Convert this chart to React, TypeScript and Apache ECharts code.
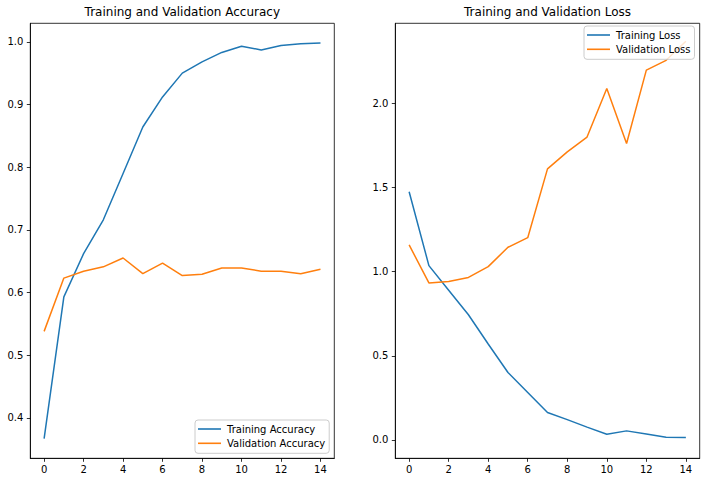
import React, { useEffect, useRef } from "react";
import * as echarts from "echarts";

const epochs = [0, 1, 2, 3, 4, 5, 6, 7, 8, 9, 10, 11, 12, 13, 14];
const trainAcc = [0.367, 0.593, 0.662, 0.716, 0.79, 0.864, 0.912, 0.95, 0.968, 0.983, 0.993, 0.987, 0.994, 0.997, 0.998];
const valAcc = [0.538, 0.623, 0.634, 0.641, 0.655, 0.63, 0.647, 0.627, 0.629, 0.639, 0.639, 0.634, 0.634, 0.63, 0.637];
const trainLoss = [1.475, 1.036, 0.89, 0.744, 0.57, 0.401, 0.282, 0.163, 0.121, 0.076, 0.034, 0.054, 0.036, 0.016, 0.014];
const valLoss = [1.159, 0.933, 0.942, 0.966, 1.03, 1.145, 1.202, 1.611, 1.712, 1.8, 2.089, 1.762, 2.198, 2.256, 2.369];
const xTicks = [0, 2, 4, 6, 8, 10, 12, 14];
const accTicks = [0.4, 0.5, 0.6, 0.7, 0.8, 0.9, 1.0];
const lossTicks = [0.0, 0.5, 1.0, 1.5, 2.0];

const FONT = "DejaVu Sans";
const BLUE = "#1f77b4";
const ORANGE = "#ff7f0e";

function pairs(ys: number[]) {
  return epochs.map((x, i) => [x, ys[i]]);
}

function xAxisFor(gridIndex: number) {
  return {
    type: "value",
    gridIndex,
    min: -0.7,
    max: 14.7,
    splitLine: { show: false },
    axisLine: { show: true, onZero: false, lineStyle: { color: "#000", width: 0.8 } },
    axisTick: { show: true, length: 3.5, lineStyle: { color: "#000", width: 0.8 }, customValues: xTicks },
    axisLabel: {
      show: true,
      margin: 6,
      color: "#000",
      fontFamily: FONT,
      fontSize: 10,
      customValues: xTicks,
      formatter: (v: number) => String(v),
    },
  };
}

function yAxisFor(gridIndex: number, min: number, max: number, ticks: number[]) {
  return {
    type: "value",
    gridIndex,
    min,
    max,
    splitLine: { show: false },
    axisLine: { show: true, onZero: false, lineStyle: { color: "#000", width: 0.8 } },
    axisTick: { show: true, length: 3.5, lineStyle: { color: "#000", width: 0.8 }, customValues: ticks },
    axisLabel: {
      show: true,
      margin: 7,
      color: "#000",
      fontFamily: FONT,
      fontSize: 10,
      customValues: ticks,
      formatter: (v: number) => v.toFixed(1),
    },
  };
}

function lineSeries(name: string, ys: number[], color: string, idx: number) {
  return {
    type: "line",
    name,
    xAxisIndex: idx,
    yAxisIndex: idx,
    data: pairs(ys),
    symbol: "none",
    showSymbol: false,
    lineStyle: { color, width: 1.5 },
    itemStyle: { color },
    z: 2,
  };
}

function legendFor(names: string[], left: number, top: number, width: number) {
  return {
    data: names,
    orient: "vertical",
    left,
    top,
    width,
    icon: "rect",
    itemWidth: 23,
    itemHeight: 1.6,
    itemGap: 4.3,
    padding: [4, 4, 5, 3],
    backgroundColor: "rgba(255,255,255,0.8)",
    borderColor: "#cccccc",
    borderWidth: 1,
    borderRadius: 3,
    selectedMode: false,
    textStyle: { color: "#000", fontFamily: FONT, fontSize: 10, padding: [0, 0, 0, 1] },
    z: 10,
  };
}

export default function App() {
  const ref = useRef<HTMLDivElement>(null);
  useEffect(() => {
    if (!ref.current) return;
    const chart = echarts.init(ref.current, null, { renderer: "svg" });
    chart.setOption({
      animation: false,
      backgroundColor: "#fff",
      grid: [
        { left: 30.3, top: 23.3, width: 304, height: 435, show: true, borderColor: "#000", borderWidth: 0.8, backgroundColor: "transparent" },
        { left: 395.3, top: 23.3, width: 304.4, height: 435, show: true, borderColor: "#000", borderWidth: 0.8, backgroundColor: "transparent" },
      ],
      xAxis: [xAxisFor(0), xAxisFor(1)],
      yAxis: [
        yAxisFor(0, 0.3355, 1.0295, accTicks),
        yAxisFor(1, -0.109, 2.476, lossTicks),
      ],
      legend: [
        legendFor(["Training Accuracy", "Validation Accuracy"], 195, 420, 134),
        legendFor(["Training Loss", "Validation Loss"], 584, 26, 112),
      ],
      series: [
        lineSeries("Training Accuracy", trainAcc, BLUE, 0),
        lineSeries("Validation Accuracy", valAcc, ORANGE, 0),
        lineSeries("Training Loss", trainLoss, BLUE, 1),
        lineSeries("Validation Loss", valLoss, ORANGE, 1),
      ],
      graphic: [
        {
          type: "text",
          x: 182.3,
          y: 12,
          style: { text: "Training and Validation Accuracy", fill: "#000", font: `12px "${FONT}"`, align: "center", verticalAlign: "middle" },
        },
        {
          type: "text",
          x: 547.5,
          y: 12,
          style: { text: "Training and Validation Loss", fill: "#000", font: `12px "${FONT}"`, align: "center", verticalAlign: "middle" },
        },
      ],
    });
    return () => chart.dispose();
  }, []);
  return (
    <div
      ref={ref}
      style={{ position: "fixed", left: 0, top: 0, width: 706, height: 482 }}
    />
  );
}
